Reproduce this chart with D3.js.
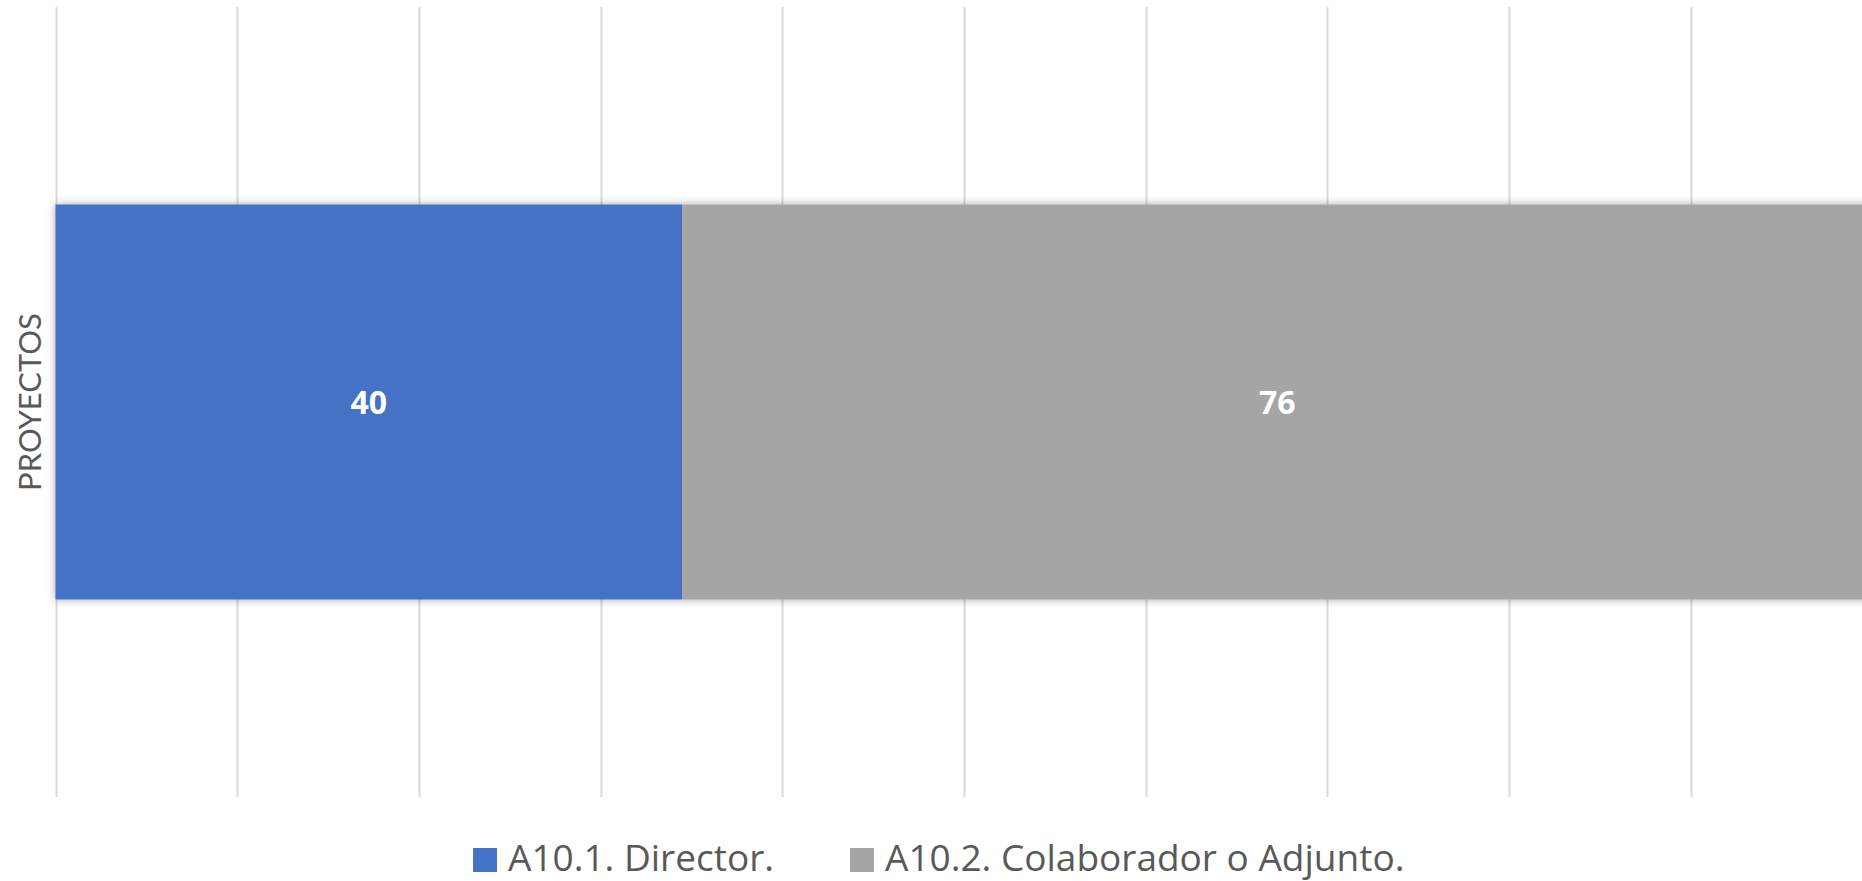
<!DOCTYPE html>
<html>
<head>
<meta charset="utf-8">
<script src="https://cdn.jsdelivr.net/npm/d3@7"></script>
<style>
  html, body { margin: 0; padding: 0; background: #ffffff; }
  svg { display: block; }
</style>
</head>
<body>
<script>
'use strict';

// data
const categories = ["PROYECTOS"];
const seriesNames = ["A10.1. Director.", "A10.2. Colaborador o Adjunto."];
const seriesKeys = ["director", "colaborador"];
const director = [40];
const colaborador = [76];
const seriesColors = ["#4472C4", "#A5A5A5"];

(function () {
  const width = 1862;
  const height = 881;
  const font = "'Open Sans', sans-serif";

  const svg = d3.select("body").append("svg")
    .attr("width", width)
    .attr("height", height);

  // soft shadow like the office chart
  const defs = svg.append("defs");
  const filter = defs.append("filter")
    .attr("id", "shadow")
    .attr("x", "-5%").attr("y", "-10%")
    .attr("width", "110%").attr("height", "120%");
  filter.append("feGaussianBlur")
    .attr("in", "SourceAlpha")
    .attr("stdDeviation", 4)
    .attr("result", "blur");
  filter.append("feComponentTransfer")
    .attr("in", "blur")
    .attr("result", "faded")
    .append("feFuncA").attr("type", "linear").attr("slope", 0.35);
  const merge = filter.append("feMerge");
  merge.append("feMergeNode").attr("in", "faded");
  merge.append("feMergeNode").attr("in", "SourceGraphic");

  const rows = categories.map((c, i) => ({
    cat: c,
    director: director[i],
    colaborador: colaborador[i]
  }));

  const stacked = d3.stack()
    .keys(seriesKeys)
    .offset(d3.stackOffsetExpand)(rows);

  const xScale = d3.scaleLinear()
    .domain([0, 1])
    .range([55.5, 1872.5]);

  const yScale = d3.scaleBand()
    .domain(categories)
    .range([7, 797])
    .padding(1 / 3);

  // gridlines
  svg.append("g")
    .selectAll("line")
    .data(xScale.ticks(10))
    .enter()
    .append("line")
    .attr("x1", d => Math.round(xScale(d)) + 0.5)
    .attr("x2", d => Math.round(xScale(d)) + 0.5)
    .attr("y1", 7)
    .attr("y2", 797)
    .attr("stroke", "#d9d9d9")
    .attr("stroke-width", 2);

  // bars
  const layers = svg.append("g")
    .attr("filter", "url(#shadow)")
    .selectAll("g")
    .data(stacked)
    .enter()
    .append("g")
    .attr("fill", (d, i) => seriesColors[i]);

  layers.selectAll("rect")
    .data(d => d)
    .enter()
    .append("rect")
    .attr("x", d => xScale(d[0]))
    .attr("y", d => yScale(d.data.cat))
    .attr("width", d => xScale(d[1]) - xScale(d[0]))
    .attr("height", yScale.bandwidth());

  // value labels
  stacked.forEach((layer) => {
    svg.append("g")
      .selectAll("text")
      .data(layer)
      .enter()
      .append("text")
      .attr("x", d => (xScale(d[0]) + xScale(d[1])) / 2)
      .attr("y", d => yScale(d.data.cat) + yScale.bandwidth() / 2)
      .attr("dy", "0.36em")
      .attr("text-anchor", "middle")
      .style("font-family", font)
      .style("font-weight", "bold")
      .style("font-size", "32px")
      .style("fill", "#ffffff")
      .text(d => d.data[layer.key]);
  });

  // category label
  svg.append("g")
    .selectAll("text")
    .data(categories)
    .enter()
    .append("text")
    .attr("transform", d => "translate(30," + (yScale(d) + yScale.bandwidth() / 2) + ") rotate(-90)")
    .attr("dy", "0.36em")
    .attr("text-anchor", "middle")
    .style("font-family", "Lato, 'Open Sans', sans-serif")
    .style("font-size", "31px")
    .style("fill", "#595959")
    .text(d => d);

  // legend
  const legend = svg.append("g").attr("transform", "translate(473, 848)");
  let xPos = 0;
  seriesNames.forEach((name, i) => {
    const item = legend.append("g").attr("transform", "translate(" + xPos + ",0)");
    item.append("rect")
      .attr("width", 24)
      .attr("height", 24)
      .attr("fill", seriesColors[i]);
    const t = item.append("text")
      .attr("x", 35)
      .attr("y", 23)
      .style("font-family", font)
      .style("font-size", "37px")
      .style("fill", "#595959")
      .text(name);
    xPos += 35 + t.node().getComputedTextLength() + 76;
  });
})();
</script>
</body>
</html>
